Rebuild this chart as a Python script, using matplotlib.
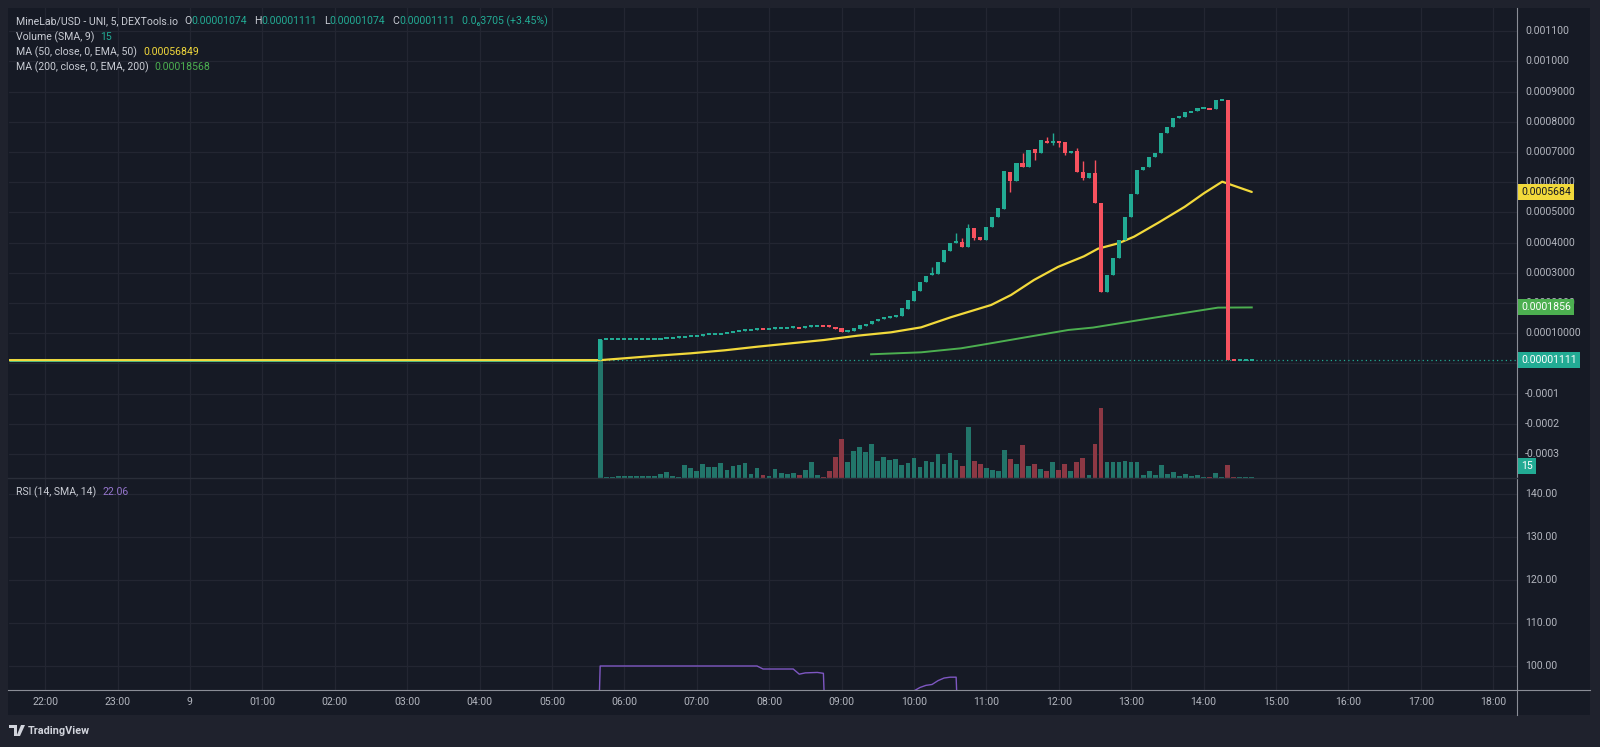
import numpy as np
import matplotlib.pyplot as plt
from matplotlib.patches import Rectangle, Polygon
from matplotlib.lines import Line2D

plt.rcParams['font.family'] = ['Roboto', 'DejaVu Sans']

W, H = 1600, 747

# prices below are in units of 0.0001 USD
first_bar = 5 + 40 / 60      # first traded 5-minute bar (05:40), in hours
bar_len = 5 / 60
last_price = 0.1111

opens = [0.111, 0.80, 0.80, 0.80, 0.80, 0.80, 0.80, 0.80, 0.811, 0.822,
         0.822, 0.833, 0.86, 0.86, 0.867, 0.90, 0.90, 0.90, 0.966, 0.97,
         0.985, 1.0, 1.03, 1.06, 1.09, 1.11, 1.12, 1.155, 1.145, 1.145,
         1.19, 1.19, 1.19, 1.195, 1.185, 1.2, 1.255, 1.26, 1.26, 1.22,
         1.165, 1.054, 1.087, 1.153, 1.242, 1.297, 1.407, 1.463, 1.496, 1.529,
         1.584, 1.794, 2.08, 2.41, 2.71, 2.93, 2.95, 3.37, 3.74, 4.0,
         4.03, 3.87, 4.48, 4.2, 4.09, 4.53, 4.84, 5.12, 6.35, 6.04,
         6.63, 6.52, 7.09, 6.98, 7.38, 7.29, 7.38, 7.33, 6.97, 7.05,
         6.35, 6.15, 6.32, 5.32, 2.38, 2.93, 3.48, 4.09, 4.84, 5.6,
         6.41, 6.5, 6.83, 6.96, 7.64, 7.82, 8.12, 8.17, 8.32, 8.36,
         8.45, 8.45, 8.43, 8.72, 8.72, 0.1111, 0.1074, 0.1111, 0.1074]
closes = [0.80, 0.80, 0.80, 0.80, 0.80, 0.80, 0.80, 0.811, 0.822, 0.822,
          0.833, 0.867, 0.86, 0.867, 0.90, 0.90, 0.90, 0.966, 0.97, 0.985,
          1.0, 1.03, 1.06, 1.09, 1.11, 1.12, 1.145, 1.145, 1.155, 1.19,
          1.19, 1.19, 1.195, 1.185, 1.2, 1.26, 1.26, 1.25, 1.2, 1.14,
          1.043, 1.109, 1.165, 1.264, 1.319, 1.407, 1.474, 1.529, 1.562, 1.606,
          1.827, 2.103, 2.41, 2.71, 2.90, 2.98, 3.37, 3.76, 4.0, 4.03,
          3.87, 4.48, 4.15, 4.09, 4.53, 4.84, 5.14, 6.37, 6.04, 6.63,
          6.5, 7.07, 6.98, 7.4, 7.29, 7.38, 7.31, 6.96, 7.01, 6.35,
          6.15, 6.32, 5.32, 2.38, 2.93, 3.48, 4.09, 4.84, 5.6, 6.41,
          6.5, 6.83, 6.96, 7.64, 7.82, 8.12, 8.17, 8.32, 8.36, 8.45,
          8.45, 8.42, 8.72, 8.72, 0.1111, 0.1074, 0.1111, 0.1111, 0.1111]
wick_high = {55: 3.2, 59: 4.31, 60: 4.15, 61: 4.62, 70: 6.98, 74: 7.49,
             75: 7.62, 79: 7.13, 80: 6.7, 82: 6.74}
wick_low = {62: 4.09, 68: 5.69, 72: 6.74, 75: 7.24, 76: 7.18, 77: 6.9, 80: 6.08}

volumes = [690, 4, 5, 12, 12, 8, 12, 12, 8, 8,
           20, 28, 8, 5, 66, 50, 33, 68, 56, 53,
           73, 38, 62, 65, 75, 20, 48, 17, 12, 43,
           25, 20, 25, 17, 38, 78, 17, 5, 33, 107,
           193, 78, 133, 155, 128, 168, 85, 107, 88, 93,
           67, 73, 98, 55, 87, 78, 118, 72, 127, 90,
           60, 253, 87, 68, 50, 42, 37, 142, 97, 68,
           163, 58, 68, 47, 37, 78, 42, 70, 37, 78,
           102, 15, 168, 350, 82, 82, 82, 87, 82, 82,
           15, 37, 15, 63, 18, 28, 10, 18, 8, 15,
           5, 5, 27, 5, 63, 5, 5, 5, 5]
vol_full_pane = 2350   # volume that would fill the whole price pane height

# moving averages at bar positions (bar index, value)
ema50_bar = [-100, 0, 4, 9.5, 15, 20.6, 26.1, 31.6, 37.1, 42.7, 48.2, 53.2, 58.1,
             64.8, 68.1, 71.9, 75.9, 80.2, 82.5, 85.9, 88.5, 92.5, 96.9, 100.1, 103.1, 108]
ema50_val = [0.111, 0.111, 0.172, 0.26, 0.337, 0.436, 0.557, 0.668, 0.778, 0.922, 1.032, 1.197, 1.53,
             1.937, 2.268, 2.765, 3.2, 3.55, 3.8, 3.98, 4.2, 4.66, 5.19, 5.64, 6.02, 5.68]
ema200_bar = [44.9, 53.2, 59.8, 63.1, 77.6, 81.7, 91.3, 102.4, 108]
ema200_val = [0.305, 0.37, 0.503, 0.613, 1.11, 1.19, 1.50, 1.85, 1.856]

rsi_bar = [-1, 0, 26, 27, 32, 33, 34, 36, 37, 38, 51, 52, 53, 54, 55, 56, 57, 58, 59, 60, 61, 108]
rsi_val = [50, 100, 100, 99.3, 99.3, 98.1, 98.4, 98.5, 98.3, 60, 80, 94.2, 95.0, 95.5, 95.7,
           96.6, 97.2, 97.4, 97.4, 60, 40, 22.06]

price_ticks = [11, 10, 9, 8, 7, 6, 5, 4, 3, 2, 1, -1, -2, -3]
price_labels = ['0.001100', '0.001000', '0.0009000', '0.0008000', '0.0007000', '0.0006000',
                '0.0005000', '0.0004000', '0.0003000', '0.0002000', '0.00010000',
                '-0.0001', '-0.0002', '-0.0003']
rsi_ticks = [100, 110, 120, 130, 140]
hour_ticks = list(range(-2, 19))
hour_labels = ['22:00', '23:00', '9'] + ['%02d:00' % h for h in range(1, 19)]

# colours
BG = '#161a25'
OUTER = '#1f222d'
GRID = '#232632'
TXT = '#b2b5be'
UP = '#22ab94'
DOWN = '#f7525f'
VUP = '#22756a'
VDOWN = '#8c3844'
YEL = '#f2d93b'
GRN = '#4caf50'
PURP = '#7e57c2'

fig = plt.figure(figsize=(W / 100, H / 100), dpi=100, facecolor=OUTER)


def fx(x):
    return x / W


def fy(y):
    return 1 - y / H


fig.patches.append(Rectangle((fx(8), fy(715)), (1590 - 8) / W, (715 - 8) / H,
                             transform=fig.transFigure, fc=BG, ec='none', zorder=-5))

left, right = 8.5, 1517
ax = fig.add_axes([fx(left), fy(478), (right - left) / W, (478 - 8) / H])
ax_rsi = fig.add_axes([fx(left), fy(690), (right - left) / W, (690 - 478) / H], sharex=ax)
for a in (ax, ax_rsi):
    a.set_facecolor(BG)
    for s in a.spines.values():
        s.set_visible(False)
    a.tick_params(length=0, labelbottom=False, labelleft=False)

t_left = 6 - (624.3 - left) / 72.4
t_right = 6 + (right - 624.3) / 72.4
ax.set_xlim(t_left, t_right)
ymin, ymax = -3.791, 11.77
ax.set_ylim(ymin, ymax)
ax_rsi.set_ylim(94.42, 143.7)

# grid
for h in hour_ticks:
    ax.axvline(h, color=GRID, lw=0.9, zorder=0)
    ax_rsi.axvline(h, color=GRID, lw=0.9, zorder=0)
for p in price_ticks + [0]:
    ax.axhline(p, color=GRID, lw=0.9, zorder=0)
for r in rsi_ticks:
    ax_rsi.axhline(r, color=GRID, lw=0.9, zorder=0)

# bars
o = np.array(opens)
c = np.array(closes)
n = len(o)
idx = np.arange(n)
t = first_bar + idx * bar_len
hi = np.maximum(o, c)
lo = np.minimum(o, c)
for k, v in wick_high.items():
    hi[k] = v
for k, v in wick_low.items():
    lo[k] = v
up = c >= o
cols = np.where(up, UP, DOWN)
vcols = np.where(up, VUP, VDOWN)

px = (ymax - ymin) / 470
body_lo = np.minimum(o, c)
body_h = np.abs(c - o)
thin = body_h < 2 * px
body_lo = np.where(thin, (o + c) / 2 - px, body_lo)
body_h = np.where(thin, 2 * px, body_h)

# volume overlay at bottom of price pane
vol = np.array(volumes)
ax.bar(t, vol * (ymax - ymin) / vol_full_pane, bottom=ymin, width=bar_len * 0.78,
       color=vcols, linewidth=0, zorder=1)

# flat pre-launch price and last price line
ax.hlines(last_price, t_left, first_bar - bar_len / 2, color=UP, lw=2.2, zorder=2)
ax.axhline(last_price, color=UP, lw=0.9, ls=(0, (1, 2.5)), zorder=2)

# moving averages
ax.plot(first_bar + np.array(ema50_bar) * bar_len, ema50_val, color=YEL, lw=1.6,
        zorder=3, solid_capstyle='round')
ax.plot(first_bar + np.array(ema200_bar) * bar_len, ema200_val, color=GRN, lw=1.4, zorder=3)

ax.vlines(t, lo, hi, colors=cols, lw=1.0, zorder=4)
ax.bar(t, body_h, bottom=body_lo, width=bar_len * 0.68, color=cols, linewidth=0, zorder=5)

# RSI
ax_rsi.plot(first_bar + np.array(rsi_bar) * bar_len, rsi_val, color=PURP, lw=1.0)

# price scale labels
ytr = ax.get_yaxis_transform()
for p, lab in zip(price_ticks, price_labels):
    ax.text(1.0055, p, lab, transform=ytr, color=TXT, fontsize=7.6, va='center', ha='left')
rtr = ax_rsi.get_yaxis_transform()
for r in rsi_ticks:
    ax_rsi.text(1.0055, r, '%.2f' % r, transform=rtr, color=TXT, fontsize=7.6,
                va='center', ha='left')


def tag(a, y, text, fc, tc, x=1.0028):
    a.text(x, y, text, transform=a.get_yaxis_transform(), color=tc, fontsize=7.6,
           va='center', ha='left', zorder=10,
           bbox=dict(boxstyle='square,pad=0.28', fc=fc, ec='none'))


tag(ax, ema50_val[-1], '0.0005684', YEL, '#131722')
tag(ax, ema200_val[-1], '0.0001856', GRN, 'white')
tag(ax, last_price, '0.00001111', UP, 'white')
tag(ax, ymin + 12 * px, '15', UP, 'white')

# time axis labels
xtr = ax_rsi.get_xaxis_transform()
for h, lab in zip(hour_ticks, hour_labels):
    ax_rsi.text(h, -(702 - 690) / (690 - 478), lab, transform=xtr, color=TXT,
                fontsize=7.6, ha='center', va='center')

# frame lines
fig.add_artist(Line2D([fx(1517), fx(1517)], [fy(8), fy(715)], color='#8a8d96', lw=0.8))
fig.add_artist(Line2D([fx(8), fx(1590)], [fy(690), fy(690)], color='#8a8d96', lw=0.8))
fig.add_artist(Line2D([fx(8), fx(1517)], [fy(478), fy(478)], color='#2a2e39', lw=1.0))

# legends
fig.canvas.draw()
rend = fig.canvas.get_renderer()


def row(y, parts, x0=16):
    x = x0
    for s, col, gap in parts:
        tx = fig.text(fx(x), fy(y), s, color=col, fontsize=7.6, va='center', ha='left')
        x += tx.get_window_extent(rend).width + gap


LT = '#c9ccd4'
row(21, [('MineLab/USD - UNI, 5, DEXTools.io', LT, 6),
         ('O', LT, 0), ('0.00001074', UP, 7),
         ('H', LT, 0), ('0.00001111', UP, 7),
         ('L', LT, 0), ('0.00001074', UP, 7),
         ('C', LT, 0), ('0.00001111', UP, 7),
         ('0.0\u20863705 (+3.45%)', UP, 0)])
row(37, [('Volume (SMA, 9)', LT, 6), ('15', UP, 0)])
row(52, [('MA (50, close, 0, EMA, 50)', LT, 6), ('0.00056849', YEL, 0)])
row(67, [('MA (200, close, 0, EMA, 200)', LT, 6), ('0.00018568', GRN, 0)])
row(492, [('RSI (14, SMA, 14)', LT, 6), ('22.06', '#9575cd', 0)])

# TradingView logo
logo = '#d1d4dc'
fig.patches.append(Polygon([(fx(9), fy(725)), (fx(17), fy(725)), (fx(17), fy(736)),
                            (fx(13.5), fy(736)), (fx(13.5), fy(728)), (fx(9), fy(728))],
                           closed=True, transform=fig.transFigure, fc=logo, ec='none'))
fig.patches.append(Polygon([(fx(21), fy(725)), (fx(25), fy(725)), (fx(20), fy(736)),
                            (fx(16.5), fy(736))],
                           closed=True, transform=fig.transFigure, fc=logo, ec='none'))
fig.text(fx(28), fy(730.5), 'TradingView', color=logo, fontsize=7.8, weight='bold',
         va='center', ha='left')

fig.savefig('out.png', dpi=100, facecolor=OUTER)
